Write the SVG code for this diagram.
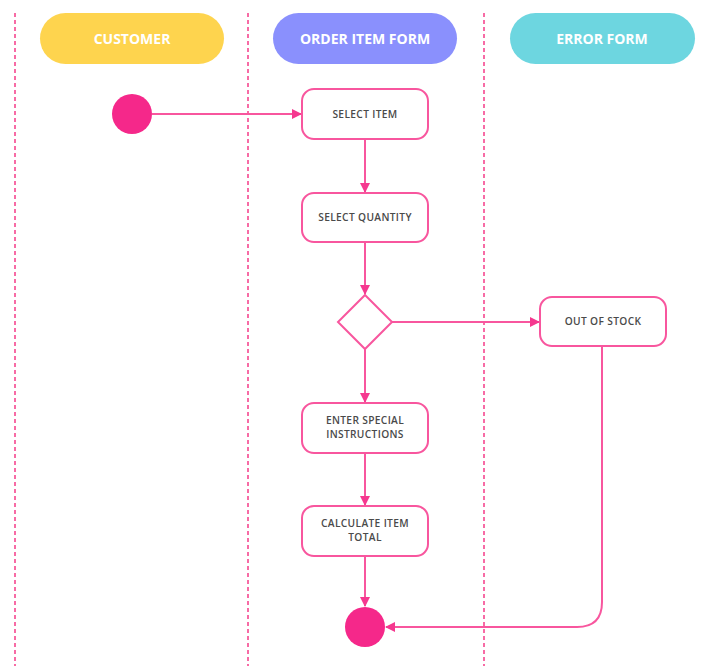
<svg xmlns="http://www.w3.org/2000/svg" width="711" height="666" viewBox="0 0 711 666">
<defs>
<style>
.lane{stroke:#F5478F;stroke-width:1.6;stroke-dasharray:4,3;fill:none}
.hdr{font-family:"Open Sans","Liberation Sans",sans-serif;font-weight:700;font-size:14px;fill:#fff;text-anchor:middle}
.box{fill:#fff;stroke:#F8569E;stroke-width:2}
.lbl{font-family:"Open Sans","Liberation Sans",sans-serif;font-weight:600;font-size:10.2px;letter-spacing:0.35px;fill:#4a4a4a;text-anchor:middle}
.edge{stroke:#F8569E;stroke-width:2;fill:none;marker-end:url(#ah)}
.dot{fill:#F5288A}
</style>
<marker id="ah" markerWidth="10" markerHeight="10" refX="9" refY="5" orient="auto" markerUnits="userSpaceOnUse">
<path d="M0,0 L10,5 L0,10 Z" fill="#F5388F"/>
</marker>
</defs>
<rect width="711" height="666" fill="#fff"/>
<g id="lanes">
<line class="lane" x1="15" y1="13" x2="15" y2="666"/>
<line class="lane" x1="248" y1="13" x2="248" y2="666"/>
<line class="lane" x1="484" y1="13" x2="484" y2="666"/>
</g>
<g id="hdr-customer"><rect x="40" y="13" width="184" height="51" rx="25.5" fill="#FED44E"/><text class="hdr" x="132" y="44">CUSTOMER</text></g>
<g id="hdr-order"><rect x="273" y="13" width="184" height="51" rx="25.5" fill="#8A90FD"/><text class="hdr" x="365" y="44">ORDER ITEM FORM</text></g>
<g id="hdr-error"><rect x="510" y="13" width="185" height="51" rx="25.5" fill="#6DD6E0"/><text class="hdr" x="602" y="44">ERROR FORM</text></g>
<g id="edges">
<line class="edge" x1="152" y1="114" x2="301" y2="114"/>
<line class="edge" x1="365" y1="139" x2="365" y2="192"/>
<line class="edge" x1="365" y1="242" x2="365" y2="294"/>
<line class="edge" x1="392" y1="322" x2="539" y2="322"/>
<line class="edge" x1="365" y1="349" x2="365" y2="402"/>
<line class="edge" x1="365" y1="453" x2="365" y2="505"/>
<line class="edge" x1="365" y1="556" x2="365" y2="606"/>
<path class="edge" d="M602,346 V602 Q602,627 577,627 H386"/>
</g>
<g id="start"><circle class="dot" cx="132" cy="114" r="20"/></g>
<g id="select-item"><rect class="box" x="302" y="89" width="126" height="50" rx="12"/><text class="lbl" x="365" y="117.5">SELECT ITEM</text></g>
<g id="select-quantity"><rect class="box" x="302" y="193" width="126" height="49" rx="12"/><text class="lbl" x="365" y="221">SELECT QUANTITY</text></g>
<g id="decision"><path class="box" d="M365,295 L392,322 L365,349 L338,322 Z"/></g>
<g id="out-of-stock"><rect class="box" x="540" y="297" width="126" height="49" rx="12"/><text class="lbl" x="603" y="325">OUT OF STOCK</text></g>
<g id="enter-special"><rect class="box" x="302" y="403" width="126" height="50" rx="12"/><text class="lbl" x="365" y="423.8">ENTER SPECIAL<tspan x="365" dy="14">INSTRUCTIONS</tspan></text></g>
<g id="calculate"><rect class="box" x="302" y="506" width="126" height="50" rx="12"/><text class="lbl" x="365" y="526.8">CALCULATE ITEM<tspan x="365" dy="14">TOTAL</tspan></text></g>
<g id="end"><circle class="dot" cx="365" cy="627" r="20"/></g>
</svg>
